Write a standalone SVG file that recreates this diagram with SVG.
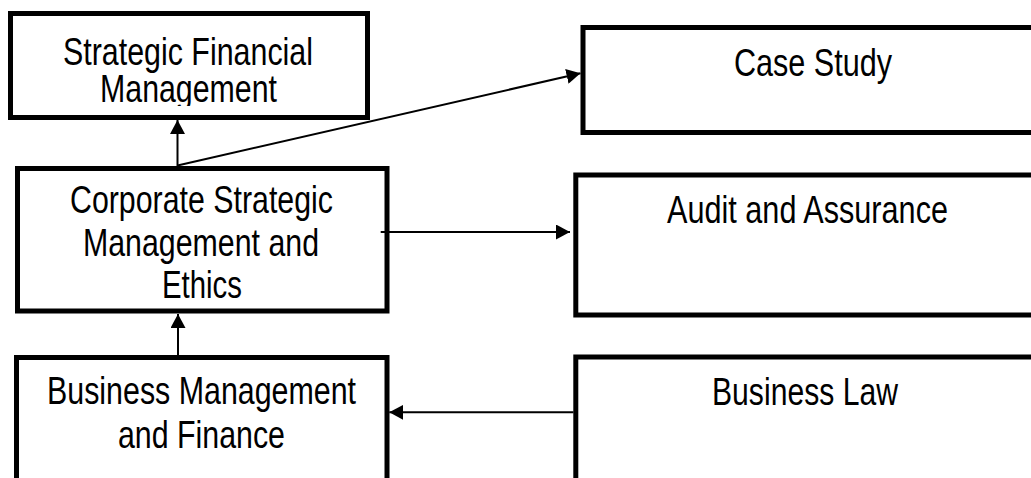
<svg xmlns="http://www.w3.org/2000/svg" width="1031" height="478" viewBox="0 0 1031 478">
  <style>
    .box { fill: #ffffff; stroke: #000000; stroke-width: 5; }
    .lbl { font-family: "Liberation Sans", Arial, sans-serif; font-size: 39px; fill: #000000; text-anchor: middle; }
    .conn { stroke: #000000; stroke-width: 2; fill: none; }
  </style>
  <defs>
    <marker id="arr" viewBox="0 0 14 15" refX="14" refY="7.5" markerWidth="14" markerHeight="15" markerUnits="userSpaceOnUse" orient="auto">
      <path d="M0,0 L14,7.5 L0,15 Z" fill="#000000"/>
    </marker>
    <clipPath id="sfmClip">
      <rect x="13" y="16" width="352" height="90"/>
    </clipPath>
  </defs>
  <rect x="0" y="0" width="1031" height="478" fill="#ffffff"/>

  <g id="node-sfm">
    <rect class="box" x="10.5" y="13.5" width="357" height="104"/>
    <g clip-path="url(#sfmClip)">
      <text class="lbl" x="188" y="65" textLength="250" lengthAdjust="spacingAndGlyphs">Strategic Financial</text>
      <text class="lbl" x="188.5" y="102" textLength="177" lengthAdjust="spacingAndGlyphs">Management</text>
    </g>
  </g>

  <g id="node-case-study">
    <rect class="box" x="583" y="27.5" width="470" height="105"/>
    <text class="lbl" x="813" y="76" textLength="158" lengthAdjust="spacingAndGlyphs">Case Study</text>
  </g>

  <g id="node-csme">
    <rect class="box" x="17.5" y="168.5" width="369.5" height="142.5"/>
    <text class="lbl" x="201.5" y="213" textLength="263" lengthAdjust="spacingAndGlyphs">Corporate Strategic</text>
    <text class="lbl" x="201" y="256" textLength="236" lengthAdjust="spacingAndGlyphs">Management and</text>
    <text class="lbl" x="202" y="298" textLength="80" lengthAdjust="spacingAndGlyphs">Ethics</text>
  </g>

  <g id="node-audit">
    <rect class="box" x="575.8" y="175" width="470" height="140"/>
    <text class="lbl" x="807.5" y="223" textLength="281" lengthAdjust="spacingAndGlyphs">Audit and Assurance</text>
  </g>

  <g id="node-bmf">
    <rect class="box" x="16.5" y="357.5" width="370.5" height="140"/>
    <text class="lbl" x="201.5" y="404" textLength="309" lengthAdjust="spacingAndGlyphs">Business Management</text>
    <text class="lbl" x="201.5" y="448" textLength="167" lengthAdjust="spacingAndGlyphs">and Finance</text>
  </g>

  <g id="node-business-law">
    <rect class="box" x="575.8" y="357" width="470" height="140"/>
    <text class="lbl" x="805" y="405" textLength="186" lengthAdjust="spacingAndGlyphs">Business Law</text>
  </g>

  <g id="connectors">
    <line class="conn" x1="177.5" y1="166" x2="177.5" y2="120" marker-end="url(#arr)"/>
    <line class="conn" x1="177.5" y1="165.5" x2="580.5" y2="73.3" marker-end="url(#arr)"/>
    <line class="conn" x1="380.7" y1="232" x2="570" y2="232" marker-end="url(#arr)"/>
    <line class="conn" x1="178" y1="355.5" x2="178" y2="314" marker-end="url(#arr)"/>
    <line class="conn" x1="573.5" y1="412.3" x2="389.3" y2="412.3" marker-end="url(#arr)"/>
  </g>
</svg>
